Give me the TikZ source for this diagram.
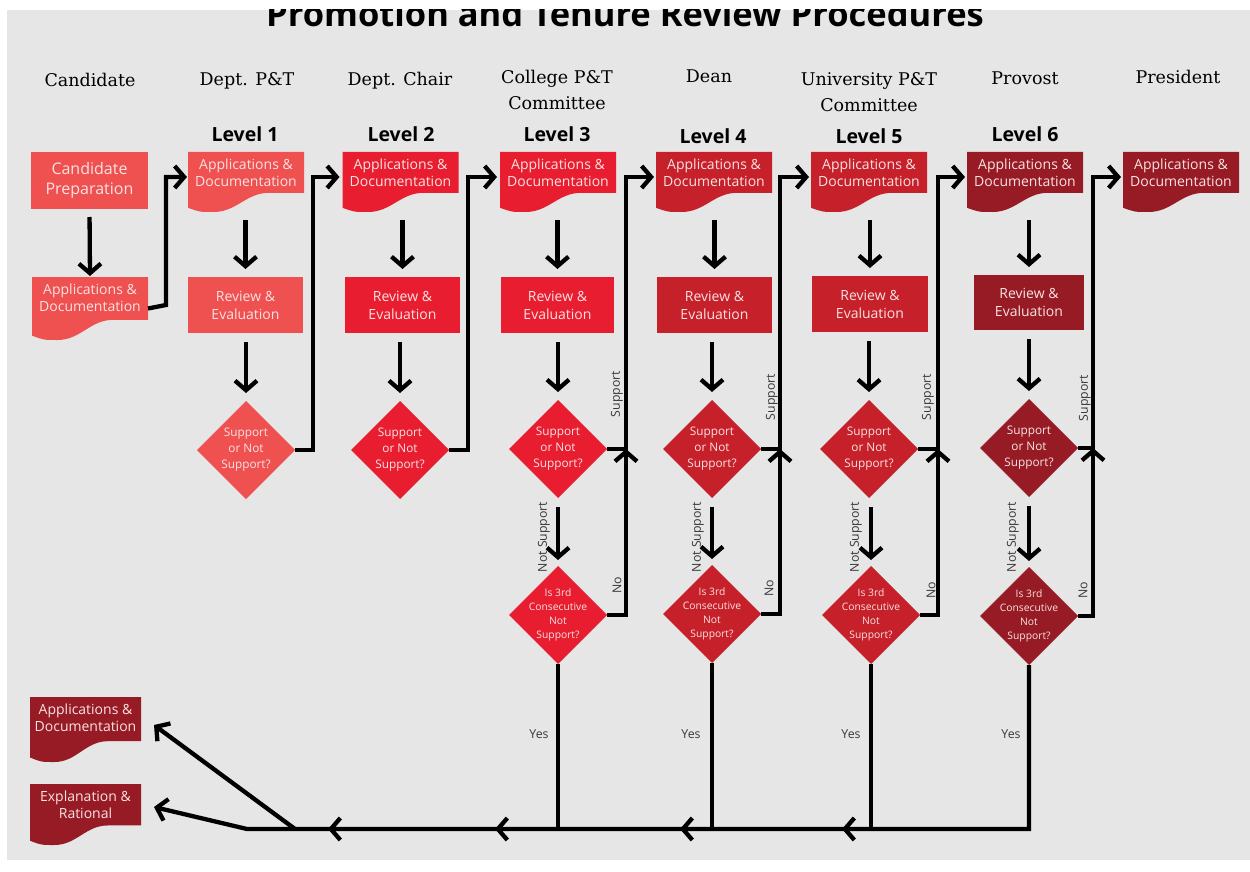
\documentclass[tikz,border=0pt]{standalone}
\usepackage{fontspec}
\newfontfamily\osans{Open Sans}
\newfontfamily\hserif{DejaVu Serif}
\usetikzlibrary{arrows.meta,shapes.geometric,calc}
\definecolor{bgc}{RGB}{230,230,230}
\definecolor{ca}{RGB}{239,80,80}
\definecolor{cb}{RGB}{232,30,48}
\definecolor{cc}{RGB}{198,32,42}
\definecolor{cd}{RGB}{150,27,36}
\definecolor{txt}{RGB}{250,226,226}
\definecolor{lbl}{RGB}{55,55,55}
\tikzset{
 frame/.style={inner sep=0pt, outer sep=0pt, draw=none},
 boxtxt/.style={text=txt, align=center, inner sep=0pt, font=\osans\fontsize{14}{17}\selectfont},
 rev/.style={fill=#1, minimum width=115pt, minimum height=56pt, inner sep=0pt, outer sep=0pt, text=txt, align=center, font=\osans\fontsize{14}{18}\selectfont},
 dia/.style={diamond, aspect=1, fill=#1, minimum width=98pt, minimum height=98pt, inner sep=0pt, outer sep=0pt},
 diatxt/.style={text=txt, align=center, inner sep=0pt, font=\osans\fontsize{11.8}{16}\selectfont},
 qtxt/.style={text=txt, align=center, inner sep=0pt, font=\osans\fontsize{10.3}{14}\selectfont},
 conn/.style={line width=4.3pt, draw=black},
 arr/.style={conn, -{Straight Barb[length=9.5pt,width=22pt]}},
 lab/.style={text=lbl, font=\osans\fontsize{12.3}{14}\selectfont, inner sep=0pt},
 head/.style={font=\hserif\fontsize{17.5}{26}\selectfont, inner sep=0pt, anchor=base},
 lev/.style={font=\osans\bfseries\fontsize{19.5}{22}\selectfont, inner sep=0pt, anchor=base},
}
\newcommand\DocBox[7]{%
 \begin{scope}[shift={(#2,#3)}]
  \fill[#6] ({-#4/2},0) -- ({#4/2},0) -- ({#4/2},{0.68*#5}) -- ({#4/2-0.3*#4},{0.68*#5})
    .. controls ({#4/2-0.5*#4},{0.68*#5}) and ({-#4/2+0.42*#4},{#5}) .. ({-#4/2+0.22*#4},{#5})
    .. controls ({-#4/2+0.1*#4},{#5}) .. ({-#4/2},{0.93*#5}) -- cycle;
 \end{scope}
 \node[frame, minimum width=#4pt, minimum height=#5pt] (#1) at (#2,{#3+#5/2}) {};
 \node[boxtxt] (#1t) at ([yshift=-20.5pt]#1.north) {#7};
}
\begin{document}
\begin{tikzpicture}[x=1pt,y=-1pt]
\useasboundingbox (0,0) rectangle (1250,872);
\fill[white] (0,0) rectangle (1250,872);
\fill[bgc] (7,10) rectangle (1250,860);
\begin{scope}
 \clip (7,10) rectangle (1250,860);
 \node[font=\osans\bfseries\fontsize{34.5}{40}\selectfont, inner sep=0pt, anchor=base] (title) at (625,27) {Promotion and Tenure Review Procedures};
\end{scope}

% headers
\node[head] (hc) at (90,86.5) {Candidate};
\node[head] (h1) at (247,85.5) {Dept. P\&T};
\node[head] (h2) at (400,85.5) {Dept. Chair};
\node[head] (h3) at (557,83.5) {College P\&T};
\node[head] (h3b) at (557,109.5) {Committee};
\node[head] (h4) at (709,82.5) {Dean};
\node[head] (h5) at (869,85.5) {University P\&T};
\node[head] (h5b) at (869,111.5) {Committee};
\node[head] (h6) at (1025,84.5) {Provost};
\node[head] (h7) at (1178,83.5) {President};

\node[lev] (l1) at (245,142) {Level 1};
\node[lev] (l2) at (401,142) {Level 2};
\node[lev] (l3) at (557,142) {Level 3};
\node[lev] (l4) at (713,143) {Level 4};
\node[lev] (l5) at (869,143) {Level 5};
\node[lev] (l6) at (1025,142) {Level 6};

% candidate column
\node[rev=ca, minimum width=117pt, minimum height=57pt, font=\osans\fontsize{16}{20}\selectfont] (cp) at (89.5,180.5) {Candidate\\Preparation};
\DocBox{cdoc}{90}{277}{116}{63}{ca}{Applications \&\\Documentation}

% level documents
\DocBox{d1}{246}{152}{116}{60}{ca}{Applications \&\\Documentation}
\DocBox{d2}{400.5}{152}{116}{60}{cb}{Applications \&\\Documentation}
\DocBox{d3}{558}{152}{116}{60}{cb}{Applications \&\\Documentation}
\DocBox{d4}{714}{152}{116}{60}{cc}{Applications \&\\Documentation}
\DocBox{d5}{869}{152}{116}{60}{cc}{Applications \&\\Documentation}
\DocBox{d6}{1025}{152}{116}{60}{cd}{Applications \&\\Documentation}
\DocBox{dp}{1181}{152}{116}{60}{cd}{Applications \&\\Documentation}

% outcome documents
\DocBox{oa}{85.5}{697}{111}{65}{cd}{Applications \&\\Documentation}
\DocBox{oe}{85.5}{784}{111}{61}{cd}{Explanation \&\\Rational}

% review boxes
\node[rev=ca] (r1) at (245.5,305) {Review \&\\Evaluation};
\node[rev=cb] (r2) at (402.5,305) {Review \&\\Evaluation};
\node[rev=cb, minimum width=113pt] (r3) at (557.5,305) {Review \&\\Evaluation};
\node[rev=cc] (r4) at (714.5,305) {Review \&\\Evaluation};
\node[rev=cc, minimum width=116pt] (r5) at (870,304) {Review \&\\Evaluation};
\node[rev=cd, minimum width=110pt, minimum height=55pt] (r6) at (1029,302.5) {Review \&\\Evaluation};

% decision diamonds
\node[dia=ca] (k1) at (246,450) {};
\node[dia=cb] (k2) at (400,450) {};
\node[dia=cb] (k3) at (558,449) {};
\node[dia=cc] (k4) at (712,449) {};
\node[dia=cc] (k5) at (869,449) {};
\node[dia=cd] (k6) at (1029,448) {};
\foreach \k in {k1,k2,k3,k4,k5,k6}{
 \node[diatxt] (\k t) at (\k) {Support\\or Not\\Support?};
}
\node[dia=cb] (q3) at (558,615) {};
\node[dia=cc] (q4) at (712,614) {};
\node[dia=cc] (q5) at (871,615) {};
\node[dia=cd] (q6) at (1029,616) {};
\foreach \q in {q3,q4,q5,q6}{
 \node[qtxt] (\q t) at (\q) {Is 3rd\\Consecutive\\Not\\Support?};
}

% vertical flow arrows
\draw[arr, shorten <=8pt, shorten >=1pt] (cp.south) -- (cdoc.north);
\foreach \d/\r/\k in {d1/r1/k1,d2/r2/k2,d3/r3/k3,d4/r4/k4,d5/r5/k5,d6/r6/k6}{
 \draw[arr, shorten <=8pt, shorten >=8pt] (\d.south -| \r.north) -- (\r.north);
 \draw[arr, shorten <=9pt, shorten >=8pt] (\r.south -| \k.north) -- (\k.north);
}
\foreach \k/\q in {k3/q3,k4/q4,k5/q5,k6/q6}{
 \draw[arr, shorten <=9pt, shorten >=6pt] (\k.south -| \q.north) -- (\q.north);
}

% connectors between levels
\coordinate (v0b) at (166,305);
\coordinate (v0) at (166,177);
\draw[arr, shorten >=1pt] (cdoc.east) -- (v0b) -- (v0) -- (v0 -| d1.west);
\coordinate (v1) at (313,177);
\draw[arr, shorten >=3pt] (k1.east) -- (k1.east -| v1) -- (v1) -- (v1 -| d2.west);
\coordinate (v2) at (468,177);
\draw[arr, shorten >=3pt] (k2.east) -- (k2.east -| v2) -- (v2) -- (v2 -| d3.west);
\coordinate (v3) at (626,177);
\coordinate (v4) at (780,177);
\coordinate (v5) at (938,177);
\coordinate (v6) at (1093,177);
\foreach \k/\q/\v/\n in {k3/q3/v3/d4,k4/q4/v4/d5,k5/q5/v5/d6,k6/q6/v6/dp}{
 \draw[arr, shorten >=2pt] (\k.east) -- (\k.east -| \v) -- (\v) -- (\v -| \n.west);
 \draw[arr] (\q.east) -- (\q.east -| \v) -- (\k.east -| \v);
}

% bottom return line
\coordinate (bl) at (0,829);
\coordinate (bj1) at (295,829);
\coordinate (bj2) at (247,829);
\coordinate (ta) at (154,725);
\coordinate (te) at (154,807);
\coordinate (t5) at (842,829);
\coordinate (t4) at (680,829);
\coordinate (t3) at (495,829);
\coordinate (t2) at (328,829);
\draw[arr] (q6.south) -- (q6.south |- bl) -- (bj2) -- (te);
\draw[conn] (q5.south) -- (q5.south |- bl);
\draw[conn] (q4.south) -- (q4.south |- bl);
\draw[conn] (q3.south) -- (q3.south |- bl);
\draw[arr] (q5.south |- bl) -- (t5);
\draw[arr] (q4.south |- bl) -- (t4);
\draw[arr] (q3.south |- bl) -- (t3);
\draw[arr] (t3) -- (t2);
\draw[arr] (bj1) -- (ta);

% labels
\foreach \x/\y [count=\i] in {617/394,772/397,928/397,1085/398}{
 \node[lab, rotate=90] (sup\i) at (\x,\y) {Support};
}
\foreach \x/\y [count=\i] in {617/585,769/588,931/590,1083/590}{
 \node[lab, rotate=90] (no\i) at (\x,\y) {No};
}
\foreach \x/\y [count=\i] in {544/537,698/537,856/537,1013/537}{
 \node[lab, rotate=90] (ns\i) at (\x,\y) {Not Support};
}
\foreach \x/\y [count=\i] in {539/734,691/734,851/734,1011/734}{
 \node[lab] (yes\i) at (\x,\y) {Yes};
}
\end{tikzpicture}
\end{document}
